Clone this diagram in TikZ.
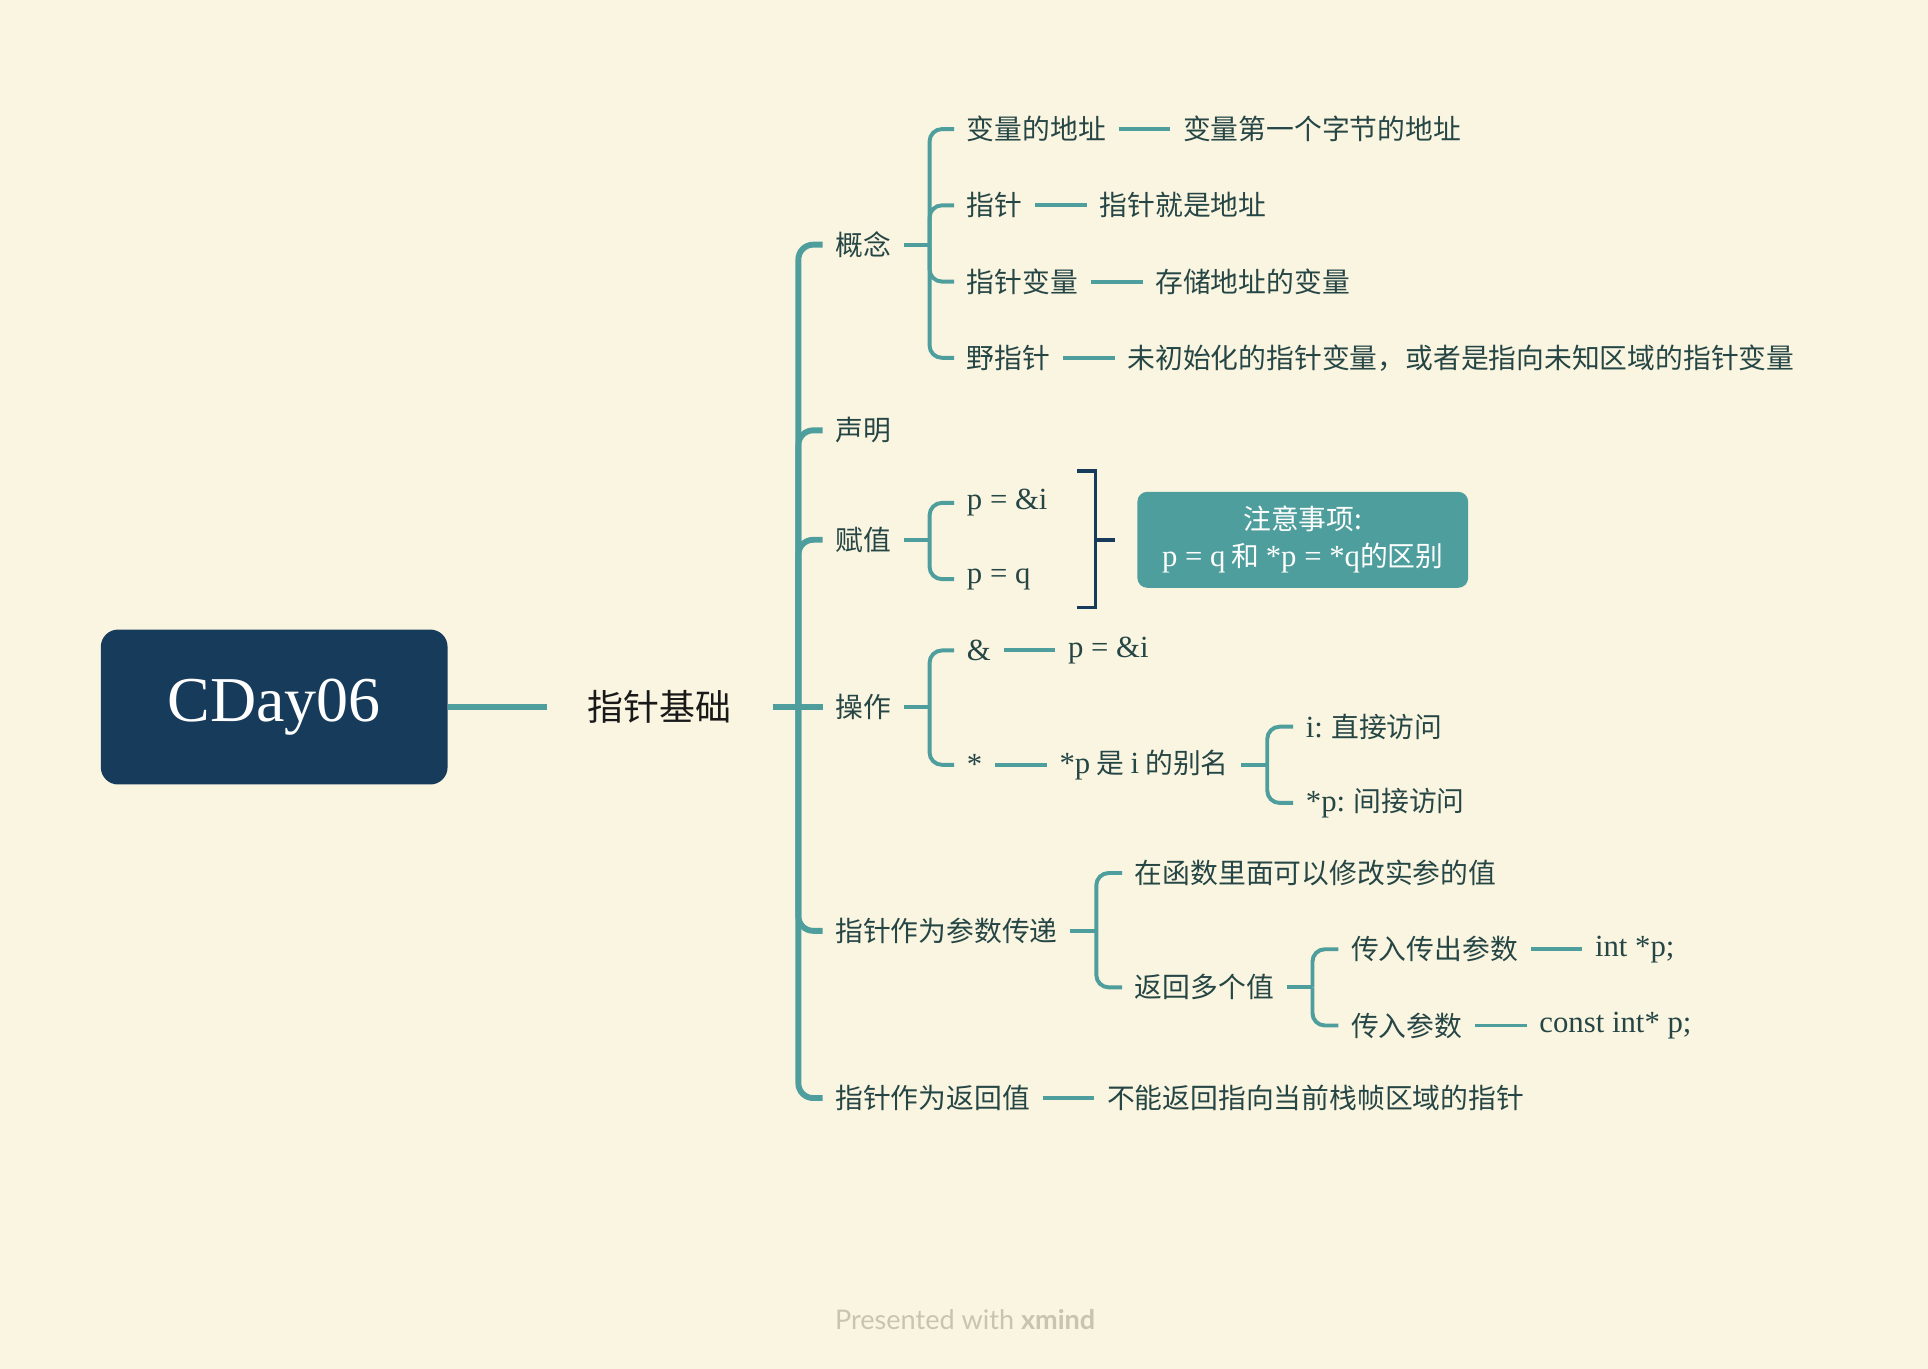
\documentclass[tikz,border=0pt]{standalone}
\usepackage{fontspec}
\setmainfont{Liberation Serif}
\newfontfamily\cjk{Noto Sans CJK SC}
\newfontfamily\ftfont{Lato}
\usetikzlibrary{positioning}
\definecolor{bgc}{HTML}{FAF5E0}
\definecolor{branch}{HTML}{4E9E9D}
\definecolor{navy}{HTML}{173C5B}
\definecolor{ink}{HTML}{264646}
\definecolor{foot}{HTML}{C9C4AE}
\newcommand\srf[1]{{\rmfamily\fontsize{12.5pt}{14pt}\selectfont #1}}
\begin{document}
\begin{tikzpicture}[x=0.5pt,y=-0.5pt,
  root/.style={fill=navy,rounded corners=7pt,minimum width=141pt,minimum height=63pt,text=white,font=\rmfamily\fontsize{26pt}{30pt}\selectfont},
  topic/.style={inner xsep=16.5pt,text=black!90,font=\cjk\fontsize{14.6pt}{17pt}\selectfont},
  sub/.style={anchor=west,inner xsep=5pt,inner ysep=2pt,text=ink,font=\cjk\fontsize{11.3pt}{14pt}\selectfont},
  code/.style={sub,font=\rmfamily\fontsize{12.5pt}{14pt}\selectfont},
  note/.style={fill=branch,rounded corners=4pt,minimum width=134.5pt,minimum height=39pt,text=white,align=center,font=\cjk\fontsize{11.3pt}{15pt}\selectfont},
  link/.style={draw=branch,line width=1.6pt,rounded corners=5pt},
  mlink/.style={draw=branch,line width=2.4pt,rounded corners=6pt},
  brk/.style={draw=navy,line width=1.5pt}]
\fill[bgc] (0,0) rectangle (1568,1113);
\useasboundingbox (0,0) rectangle (1568,1113);

\node[root] (cday) at (223,575) {CDay06};
\node[topic] (base) at (536.5,575) {指针基础};
\draw[mlink] (cday.east) -- (base.west);

% first level
\node[sub] (gn) at (669,199) {概念};
\node[sub] (sm) at (669,350) {声明};
\node[sub] (fz) at (669,439) {赋值};
\node[sub] (cz) at (669,575) {操作};
\node[sub] (cs) at (669,757) {指针作为参数传递};
\node[sub] (fh) at (669,893) {指针作为返回值};
\path (base.east) ++(21,0) coordinate (bj);
\draw[mlink] (base.east) -- (cz.west);
\foreach \n in {gn,sm,fz,cs,fh} \draw[mlink] (bj) |- (\n.west);

% 概念
\node[sub] (bl) at (776,105) {变量的地址};
\node[sub] (zz) at (776,167) {指针};
\node[sub] (zb) at (776,229) {指针变量};
\node[sub] (yz) at (776,291) {野指针};
\node[sub,right=21pt of bl] (bl2) {变量第一个字节的地址};
\node[sub,right=21pt of zz] (zz2) {指针就是地址};
\node[sub,right=21pt of zb] (zb2) {存储地址的变量};
\node[sub,right=21pt of yz] (yz2) {未初始化的指针变量，或者是指向未知区域的指针变量};

% 赋值
\node[code] (a1) at (776,409) {p = \&i};
\node[code] (a2) at (776,471) {p = q};
\draw[brk] (876,383) -- (891,383) -- (891,494) -- (876,494);
\node[note] (zy) at (1059.5,439) {注意事项:\\\srf{p = q} 和 \srf{*p = *q}的区别};
\draw[brk] (891,439) -- (907,439);

% 操作
\node[code] (o1) at (776,529) {\&};
\node[code] (o2) at (776,622) {*};
\node[code,right=21pt of o1] (o1d) {p = \&i};
\node[sub,right=21pt of o2] (o2d) {\srf{*p} 是 \srf{i} 的别名};
\node[sub,right=21pt of o2d,yshift=15.5pt] (ia) {\srf{i:} 直接访问};
\node[sub,right=21pt of o2d,yshift=-15.5pt] (ib) {\srf{*p:} 间接访问};

% 参数传递
\node[sub,right=21pt of cs,yshift=23.5pt] (p1) {在函数里面可以修改实参的值};
\node[sub,right=21pt of cs,yshift=-23pt] (p2) {返回多个值};
\node[sub,right=21pt of p2,yshift=15.5pt] (q1) {传入传出参数};
\node[sub,right=21pt of p2,yshift=-15.5pt] (q2) {传入参数};
\node[code,right=21pt of q1] (q1d) {int *p;};
\node[code,right=21pt of q2] (q2d) {const int* p;};

% 返回值
\node[sub,right=21pt of fh] (fh2) {不能返回指向当前栈帧区域的指针};

% brackets
\foreach \p/\kids in {gn/{bl,zz,zb,yz},fz/{a1,a2},cz/{o1,o2},o2d/{ia,ib},cs/{p1,p2},p2/{q1,q2}}{
  \path (\p.east) ++(21,0) coordinate (j);
  \draw[link] (\p.east) -- (j);
  \foreach \k in \kids \draw[link] (j) |- (\k.west);
}
\foreach \a/\b in {bl/bl2,zz/zz2,zb/zb2,yz/yz2,o1/o1d,o2/o2d,q1/q1d,q2/q2d,fh/fh2}
  \draw[link] (\a.east) -- (\b.west);

\node[font=\ftfont\fontsize{11pt}{13pt}\selectfont,text=foot] (ft) at (785,1073) {Presented with \textbf{xmind}};
\end{tikzpicture}
\end{document}
